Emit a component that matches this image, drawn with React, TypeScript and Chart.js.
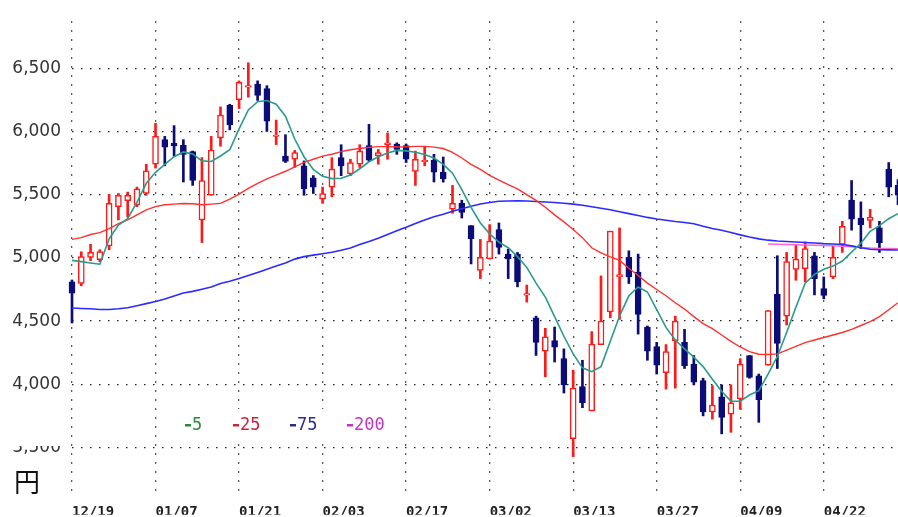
import React, { useEffect, useRef } from "react";
import { Chart, registerables } from "chart.js";

Chart.register(...registerables);

// ---- data ----
const dateTickIndex = [0, 9, 18, 27, 36, 45, 54, 63, 72, 81];
const dateTickLabels = ["12/19", "01/07", "01/21", "02/03", "02/17", "03/02", "03/13", "03/27", "04/09", "04/22"];
const priceTicks = [3500, 4000, 4500, 5000, 5500, 6000, 6500];

const opens = [4810, 4797, 5004, 4985, 5095, 5405, 5452, 5418, 5509, 5741, 5935, 5905, 5891, 5840, 5301, 5495, 5948, 6207, 6251, 6350, 6375, 6340, 5960, 5806, 5780, 5728, 5633, 5465, 5560, 5793, 5664, 5741, 5889, 5806, 5896, 5900, 5889, 5684, 5760, 5772, 5677, 5385, 5431, 5255, 4901, 4991, 5224, 5030, 5030, 4705, 4526, 4262, 4345, 4203, 3569, 3982, 3789, 4314, 4572, 4849, 5004, 4888, 4453, 4298, 4092, 4345, 4332, 4159, 4030, 3781, 3900, 3763, 3885, 4228, 4066, 4151, 4712, 4539, 4909, 4914, 5017, 4758, 4849, 5107, 5457, 5315, 5296, 5237, 5702, 5573];
const highs = [4825, 5048, 5107, 5065, 5503, 5509, 5520, 5560, 5741, 6065, 5961, 6046, 5935, 5845, 5793, 5961, 6194, 6215, 6400, 6543, 6400, 6362, 6090, 5974, 5850, 5767, 5651, 5560, 5793, 5895, 5780, 5895, 6056, 5858, 5987, 5910, 5901, 5845, 5883, 5819, 5798, 5573, 5456, 5255, 5146, 5263, 5276, 5069, 5043, 4785, 4539, 4443, 4453, 4280, 4112, 4190, 4417, 4857, 5211, 5237, 5056, 5030, 4461, 4332, 4314, 4539, 4435, 4228, 4048, 3990, 3996, 3996, 4203, 4228, 4081, 4583, 5017, 5043, 5107, 5126, 5043, 4849, 5095, 5289, 5612, 5443, 5384, 5289, 5754, 5620];
const lows = [4485, 4779, 4978, 4970, 5064, 5300, 5322, 5405, 5495, 5710, 5728, 5806, 5600, 5573, 5121, 5495, 5883, 6013, 6181, 6271, 6245, 6000, 5896, 5754, 5716, 5495, 5509, 5431, 5483, 5650, 5650, 5715, 5762, 5741, 5780, 5819, 5754, 5573, 5728, 5600, 5599, 5353, 5315, 4952, 4836, 4990, 5030, 4836, 4771, 4650, 4228, 4060, 4176, 3931, 3427, 3815, 3789, 4314, 4526, 4513, 4797, 4397, 4190, 4081, 3962, 3970, 4125, 3996, 3750, 3724, 3608, 3620, 3802, 4048, 3699, 4151, 4125, 4469, 4823, 4810, 4707, 4676, 4836, 5043, 5219, 5074, 5237, 5043, 5483, 5420];
const closes = [4720, 5011, 5043, 5050, 5431, 5495, 5495, 5547, 5689, 5961, 5876, 5885, 5819, 5612, 5612, 5852, 6129, 6052, 6388, 6362, 6284, 6082, 5972, 5762, 5832, 5547, 5560, 5509, 5702, 5728, 5754, 5845, 5772, 5832, 5910, 5858, 5780, 5780, 5772, 5677, 5625, 5431, 5360, 5152, 5004, 5133, 5082, 4991, 4810, 4718, 4332, 4376, 4293, 3996, 3970, 3854, 4319, 4500, 5211, 4867, 4849, 4552, 4262, 4151, 4259, 4500, 4146, 4017, 3781, 3835, 3737, 3854, 4159, 4055, 3879, 4583, 4324, 4971, 4991, 5074, 4836, 4702, 5004, 5250, 5307, 5263, 5322, 5121, 5560, 5495];

const ma5 = [4980, 4970, 4960, 4950, 5150, 5260, 5310, 5440, 5590, 5677, 5740, 5800, 5838, 5822, 5767, 5762, 5806, 5855, 6020, 6170, 6235, 6245, 6215, 6120, 5940, 5800, 5700, 5645, 5627, 5630, 5655, 5705, 5760, 5800, 5830, 5850, 5846, 5835, 5818, 5790, 5740, 5670, 5540, 5400, 5276, 5190, 5125, 5080, 5010, 4925, 4800, 4690, 4535, 4380, 4240, 4130, 4100, 4140, 4340, 4540, 4700, 4770, 4730, 4590, 4450, 4350, 4280, 4215, 4140, 4040, 3945, 3866, 3866, 3915, 3950, 4080, 4220, 4410, 4610, 4800, 4870, 4910, 4935, 4975, 5045, 5115, 5210, 5255, 5310, 5350];
const ma25 = [5146, 5160, 5185, 5200, 5232, 5270, 5300, 5340, 5380, 5405, 5420, 5425, 5430, 5428, 5420, 5425, 5431, 5465, 5505, 5550, 5590, 5625, 5655, 5685, 5720, 5755, 5780, 5805, 5820, 5840, 5855, 5865, 5874, 5880, 5880, 5877, 5878, 5882, 5882, 5876, 5865, 5835, 5790, 5740, 5700, 5652, 5615, 5580, 5545, 5500, 5455, 5400, 5340, 5285, 5225, 5160, 5080, 5040, 5008, 4980, 4918, 4860, 4800, 4750, 4700, 4645, 4595, 4535, 4480, 4440, 4390, 4340, 4295, 4258, 4238, 4236, 4241, 4270, 4300, 4330, 4350, 4370, 4390, 4410, 4435, 4465, 4495, 4535, 4590, 4645];
const ma75 = [4603, 4600, 4597, 4592, 4592, 4597, 4605, 4622, 4638, 4655, 4675, 4698, 4722, 4735, 4752, 4770, 4797, 4815, 4836, 4860, 4885, 4910, 4935, 4960, 4990, 5010, 5022, 5033, 5045, 5060, 5078, 5105, 5130, 5155, 5185, 5215, 5242, 5272, 5300, 5325, 5345, 5368, 5388, 5408, 5426, 5438, 5448, 5450, 5452, 5450, 5446, 5442, 5438, 5432, 5425, 5416, 5405, 5392, 5380, 5365, 5350, 5335, 5320, 5308, 5298, 5288, 5280, 5270, 5250, 5232, 5218, 5200, 5182, 5165, 5150, 5140, 5133, 5130, 5126, 5122, 5118, 5113, 5110, 5106, 5095, 5080, 5068, 5064, 5063, 5062];
const ma200Start = 75;
const ma200Values = [5110, 5108, 5106, 5104, 5102, 5100, 5098, 5095, 5092, 5088, 5083, 5078, 5075, 5074, 5073];

const legendItems = [
  { text: "5", color: "#2f8a3a" },
  { text: "25", color: "#cc2238" },
  { text: "75", color: "#2a2a98" },
  { text: "200", color: "#c433c8" },
];

const RED = "#ff1a1a";
const NAVY = "#0c0c78";

export default function App() {
  const ref = useRef<HTMLCanvasElement>(null);

  useEffect(() => {
    const idx = opens.map((_, i) => i);
    const up = idx.map((i) => closes[i] >= opens[i]);
    const lineData = (arr: number[], start = 0) => arr.map((y, k) => ({ x: k + start, y }));

    const overlay = {
      id: "overlay",
      afterDraw(chart: any) {
        const ctx = chart.ctx as CanvasRenderingContext2D;
        ctx.save();
        ctx.fillStyle = "#ffffff";
        ctx.fillRect(0, 436, 66, 10);
        ctx.fillRect(172, 409, 229, 31);
        const xs = [185, 233, 290, 347];
        ctx.font = '17px "DejaVu Sans Mono"';
        ctx.textBaseline = "middle";
        ctx.textAlign = "left";
        legendItems.forEach((it, k) => {
          ctx.fillStyle = it.color;
          ctx.fillRect(xs[k], 424, 6, 2.5);
          ctx.fillText(it.text, xs[k] + 7, 426);
        });
        ctx.fillStyle = "#111";
        ctx.font = '26px "Noto Sans CJK JP"';
        ctx.fillText("円", 14, 482);
        ctx.restore();
      },
    };

    const chart = new Chart(ref.current!, {
      type: "bar",
      data: {
        datasets: [
          { type: "line", data: lineData(ma5), borderColor: "#2a9a8c", borderWidth: 1.6, pointRadius: 0, order: 0 } as any,
          { type: "line", data: lineData(ma25), borderColor: "#ff3030", borderWidth: 1.4, pointRadius: 0, order: 0 } as any,
          { type: "line", data: lineData(ma75), borderColor: "#2b2bff", borderWidth: 1.6, pointRadius: 0, order: 0 } as any,
          { type: "line", data: lineData(ma200Values, ma200Start), borderColor: "#ff66cc", borderWidth: 1.4, pointRadius: 0, order: 0 } as any,
          {
            type: "bar",
            data: idx.map((i) => ({ x: i, y: [opens[i], closes[i]] })),
            backgroundColor: up.map((u) => (u ? "#ffffff" : NAVY)),
            borderColor: up.map((u) => (u ? RED : NAVY)),
            borderWidth: 1.5,
            borderSkipped: false,
            barThickness: 6,
            grouped: false,
            order: 2,
            clip: false,
          } as any,
          {
            type: "bar",
            data: idx.map((i) => ({ x: i, y: [lows[i], highs[i]] })),
            backgroundColor: up.map((u) => (u ? RED : NAVY)),
            borderWidth: 0,
            barThickness: 2,
            grouped: false,
            order: 3,
            clip: false,
          } as any,
        ],
      },
      options: {
        animation: false,
        responsive: false,
        maintainAspectRatio: false,
        events: [],
        layout: { padding: { top: 14, left: 0, right: 0, bottom: 0 } },
        plugins: { legend: { display: false }, tooltip: { enabled: false } },
        scales: {
          x: {
            type: "linear",
            min: 0,
            max: 89,
            offset: false,
            afterFit: (s: any) => { s.height = 19; },
            afterBuildTicks: (s: any) => { s.ticks = dateTickIndex.map((v) => ({ value: v })); },
            grid: { color: "#222", lineWidth: 1.3, drawTicks: false, offset: false },
            border: { display: false, dash: [1.5, 7.5] },
            ticks: {
              align: "start",
              autoSkip: false,
              maxRotation: 0,
              padding: 8,
              color: "#222",
              font: { family: "DejaVu Sans Mono", size: 14, weight: "bold" },
              callback: (v: any) => dateTickLabels[dateTickIndex.indexOf(Number(v))] ?? "",
            },
          } as any,
          y: {
            type: "linear",
            min: 3118,
            max: 6872,
            afterFit: (s: any) => { s.width = 72; },
            afterBuildTicks: (s: any) => { s.ticks = priceTicks.map((v) => ({ value: v })); },
            grid: { color: "#222", lineWidth: 1.3, drawTicks: false },
            border: { display: false, dash: [1.5, 7.5] },
            ticks: {
              padding: 11,
              color: "#333",
              font: { family: "DejaVu Sans", size: 17 },
              callback: (v: any) => Number(v).toLocaleString("en-US"),
            },
          } as any,
        },
      } as any,
      plugins: [overlay],
    });
    return () => chart.destroy();
  }, []);

  return (
    <div style={{ position: "absolute", left: 0, top: 0, width: 898, height: 517, background: "#fff" }}>
      <canvas ref={ref} width={898} height={517} />
    </div>
  );
}
